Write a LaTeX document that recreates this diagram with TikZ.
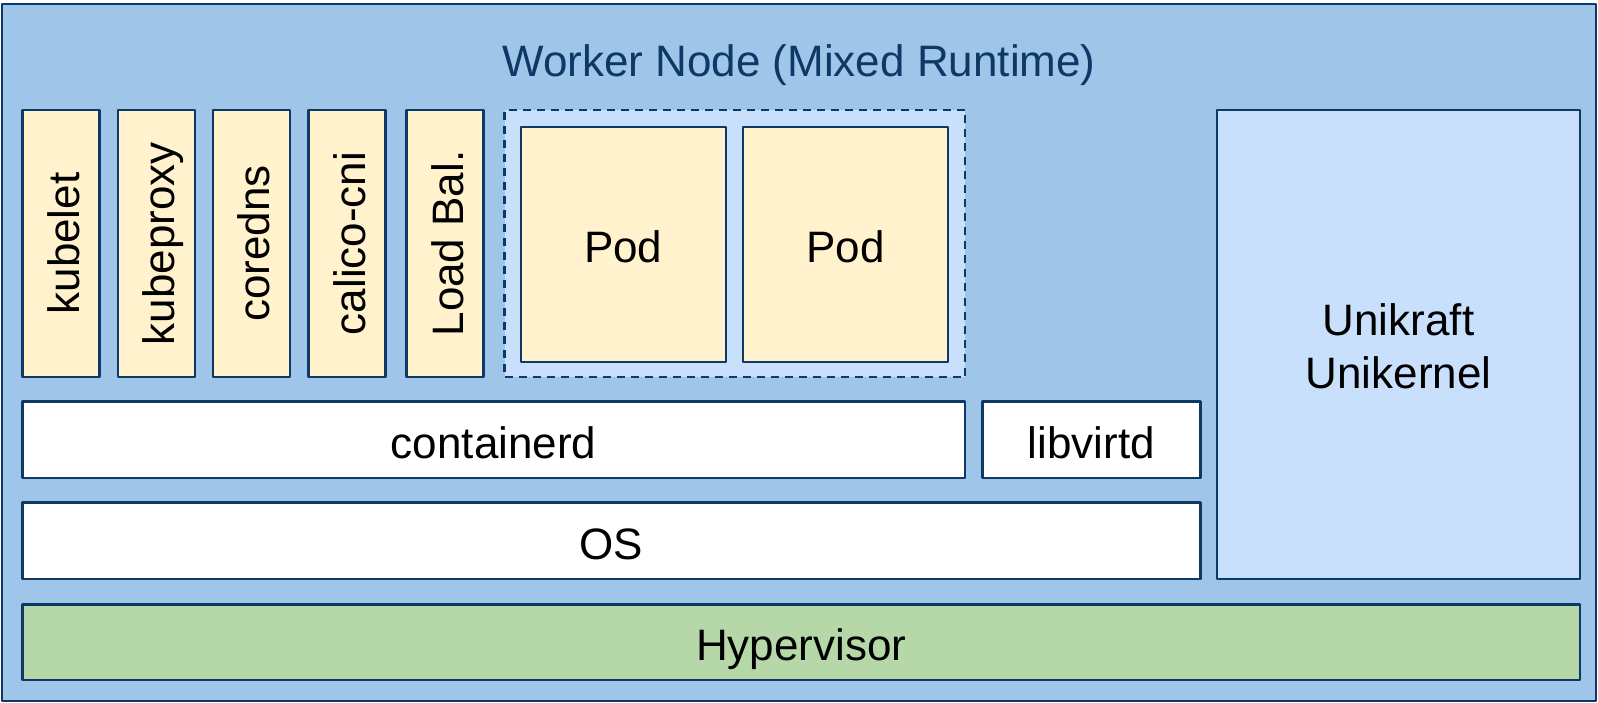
\documentclass[tikz,border=0pt]{standalone}
\usepackage{fontspec}
\setmainfont{Liberation Sans}
\definecolor{nodeblue}{HTML}{9FC5E8}
\definecolor{edgeblue}{HTML}{0E3866}
\definecolor{compyellow}{HTML}{FFF2CC}
\definecolor{podblue}{HTML}{C9E0FC}
\definecolor{hypgreen}{HTML}{B6D7A8}
\tikzset{
  box/.style={draw=edgeblue, line width=2.6pt, inner sep=0pt, outer sep=0pt,
    align=center, font=\fontsize{44}{53}\selectfont},
  label/.style={text height=46pt, text depth=9.3pt},
  compbox/.style={box, label, fill=compyellow, rotate=90, minimum width=267pt, minimum height=77pt},
  podbox/.style={box, label, fill=compyellow, minimum width=205pt, minimum height=235pt},
  layerbox/.style={box, label, fill=white, minimum height=76.5pt},
}
\begin{document}
\begin{tikzpicture}[x=1pt, y=-1pt, line join=round, line cap=round]
  \useasboundingbox (0,0) rectangle (1598,703);
  % worker node frame
  \node[box, fill=nodeblue, minimum width=1594pt, minimum height=697pt] (worker) at (799,352.5) {};
  \node[text=edgeblue, inner sep=0pt, text height=39.8pt, text depth=9.3pt,
    font=\fontsize{44}{53}\selectfont] (title) at (799,61) {Worker Node (Mixed Runtime)};
  % system components
  \node[compbox] (kubelet) at (61,243.5) {kubelet};
  \node[compbox] (kubeproxy) at (156.3,243.5) {kubeproxy};
  \node[compbox] (coredns) at (251.4,243.5) {coredns};
  \node[compbox] (calico) at (346.8,243.5) {calico-cni};
  \node[compbox] (lb) at (445,243.5) {Load Bal.};
  % pods
  \node[box, fill=podblue, dashed, dash pattern=on 8pt off 6pt, line cap=butt,
    minimum width=460.5pt, minimum height=267pt] (pods) at (734.8,243.5) {};
  \node[podbox] (pod1) at (623.3,244.5) {Pod};
  \node[podbox] (pod2) at (845.5,244.5) {Pod};
  % runtimes and layers
  \node[layerbox, minimum width=942.7pt] (containerd) at (493.7,439.8) {containerd};
  \node[layerbox, minimum width=218pt] (libvirtd) at (1091.5,439.8) {libvirtd};
  \node[layerbox, minimum width=1178.2pt] (os) at (611.4,540.7) {OS};
  \node[box, fill=podblue, minimum width=363pt, minimum height=469pt] (unikernel) at (1398.5,344.5) {};
  \node[font=\fontsize{44}{53}\selectfont, align=center] (unilabel) at (unikernel.center) [yshift=-2pt] {Unikraft\\Unikernel};
  \node[box, label, fill=hypgreen, minimum width=1557.7pt, minimum height=75.7pt] (hypervisor) at (801.2,642.2) {Hypervisor};
\end{tikzpicture}
\end{document}
